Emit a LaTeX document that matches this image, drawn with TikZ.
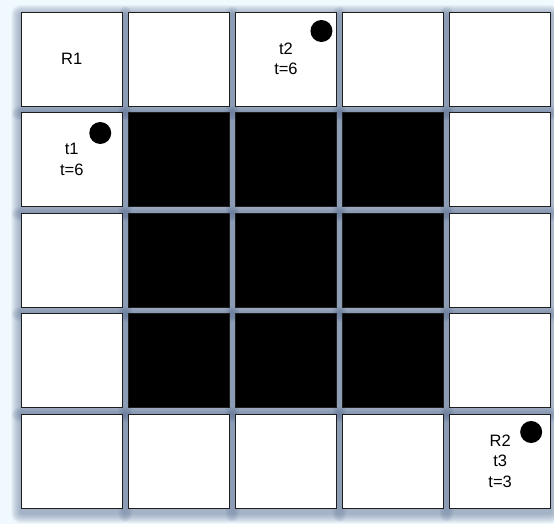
\documentclass[tikz,border=0pt]{standalone}
\usepackage{fontspec}
\setmainfont{Liberation Sans}
\definecolor{bgblue}{RGB}{240,249,253}
\definecolor{shadowblue}{RGB}{95,115,150}
\definecolor{edgegrey}{RGB}{30,30,30}
\begin{document}
\begin{tikzpicture}[x=1pt,y=-1pt,
  cellbox/.style={draw=edgegrey,line width=0.9pt,minimum width=101.5pt,minimum height=94pt,inner sep=0pt,fill=white},
  blackbox/.style={cellbox,fill=black},
  labeltext/.style={font=\fontsize{16.5}{20.5}\selectfont,align=center,text=black},
  dot/.style={circle,fill=black,minimum size=22pt,inner sep=0pt}]
\useasboundingbox (0,0) rectangle (554,524);
\fill[bgblue] (0,0) rectangle (554,524);
% shadows
\foreach \i in {0,...,4}{
  \foreach \j in {0,...,4}{
    \pgfmathsetmacro{\cx}{71.75+107.1*\i}
    \pgfmathsetmacro{\cy}{59+100.5*\j}
    \foreach \k in {1,...,10}{
      \fill[shadowblue,opacity=0.065,rounded corners=\k pt]
        ({\cx-50.75-\k},{\cy-47-\k+3}) rectangle ({\cx+50.75+\k},{\cy+47+\k+5});
    }
  }
}
% cells
\foreach \i in {0,...,4}{
  \foreach \j in {0,...,4}{
    \pgfmathsetmacro{\cx}{71.75+107.1*\i}
    \pgfmathsetmacro{\cy}{59+100.5*\j}
    \pgfmathtruncatemacro{\inner}{(\i>0)&&(\i<4)&&(\j>0)&&(\j<4)}
    \ifnum\inner=1
      \node[blackbox] (c\i\j) at (\cx,\cy) {};
    \else
      \node[cellbox] (c\i\j) at (\cx,\cy) {};
    \fi
  }
}
% labels
\node[labeltext] (lr1) at (c00) {R1};
\node[labeltext] (lt2) at (c20) {t2\\t=6};
\node[labeltext] (lt1) at (c01) {t1\\t=6};
\node[labeltext] (lr2) at (c44) {R2\\t3\\t=3};
% dots
\node[dot] (d2) at ([xshift=35.5pt,yshift=28pt]c20.center) {};
\node[dot] (d1) at ([xshift=28.5pt,yshift=26.5pt]c01.center) {};
\node[dot] (d3) at ([xshift=31pt,yshift=29pt]c44.center) {};
\end{tikzpicture}
\end{document}
